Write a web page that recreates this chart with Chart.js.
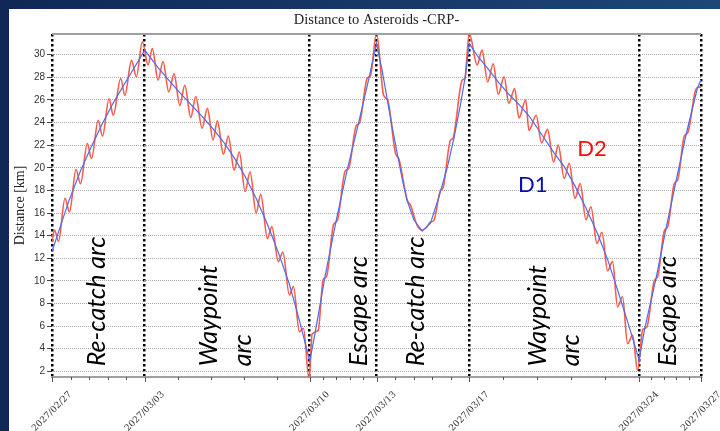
<!DOCTYPE html>
<html>
<head>
<meta charset="utf-8">
<script src="https://cdn.jsdelivr.net/npm/chart.js@4.4.1/dist/chart.umd.min.js"></script>
<style>
  html, body { margin: 0; padding: 0; background: #15305f; }
  canvas { display: block; }
</style>
</head>
<body>
<canvas id="c" width="720" height="431"></canvas>
<script>
// Arc boundary epochs, in days after 2027-02-27 00:00, with their date labels
const eventDays   = [0, 4, 11.12, 14, 18, 25.33, 28];
const eventLabels = ['2027/02/27', '2027/03/03', '2027/03/10', '2027/03/13',
                     '2027/03/17', '2027/03/24', '2027/03/27'];
const yTicks = [2, 4, 6, 8, 10, 12, 14, 16, 18, 20, 22, 24, 26, 28, 30];

// D1: mean distance [km]
const d1Day = [0, 0.259, 0.734, 1.222, 1.696, 2.171, 2.633, 3.138, 3.639, 4.0,
  4.575, 5.037, 5.512, 5.987, 6.474, 6.949, 7.394, 7.856, 8.330, 8.805, 9.293, 9.768, 10.243, 10.674, 11.12,
  11.352, 11.762, 12.237, 12.733, 13.208, 13.683, 14.0,
  14.244, 14.46, 14.675, 14.891, 15.107, 15.323, 15.612, 15.97, 16.329, 16.691, 17.05, 17.339, 17.624, 17.84, 18.0,
  18.388, 18.849, 19.281, 19.713, 20.144, 20.576, 21.076, 21.668, 22.1, 22.561, 23.036, 23.511, 23.969, 24.4, 24.832, 25.33,
  25.574, 26.057, 26.489, 26.92, 27.352, 27.827, 28.0];
const d1Km = [12.6, 14.2, 17.1, 19.7, 21.85, 23.9, 25.7, 27.45, 29.15, 30.4,
  28.85, 27.75, 26.65, 25.6, 24.55, 23.45, 22.3, 20.9, 19.25, 17.3, 15.0, 12.5, 9.7, 6.5, 2.9,
  5.4, 10.2, 15.1, 19.8, 23.8, 28.0, 31.0,
  28.6, 26.1, 23.6, 21.3, 19.05, 17.1, 15.4, 14.4, 15.1, 17.4, 20.0, 22.6, 25.6, 28.2, 31.0,
  29.8, 28.65, 27.5, 26.5, 25.6, 24.6, 23.1, 21.3, 20.1, 18.4, 16.45, 14.3, 11.9, 9.2, 6.4, 3.0,
  5.8, 10.2, 14.6, 18.8, 22.9, 26.9, 27.8];

// D2: distance including the orbital oscillation [km] (extrema and shoulders)
const d2Day = [0, 0.108, 0.281, 0.561, 0.755, 1.036, 1.230, 1.524, 1.705, 1.994, 2.180, 2.460, 2.642,
  2.965, 3.142, 3.431, 3.639, 3.898, 4.144, 4.329, 4.575, 4.791, 5.037, 5.266, 5.512, 5.728, 5.987,
  6.203, 6.474, 6.703, 6.949, 7.135, 7.394, 7.610, 7.856, 8.084, 8.330, 8.546, 8.805, 9.008, 9.293,
  9.483, 9.768, 9.958, 10.243, 10.415, 10.674, 10.847, 11.093,
  11.222, 11.481, 11.697, 11.848, 12.150, 12.302, 12.647, 12.798, 13.122, 13.273, 13.596, 13.747, 14.0,
  14.308, 14.481, 14.818, 14.964, 15.323, 15.465, 15.754, 15.970, 16.143, 16.329, 16.475, 16.760,
  16.864, 17.192, 17.295, 17.697, 17.813, 18.0,
  18.344, 18.551, 18.797, 19.035, 19.251, 19.510, 19.704, 19.963, 20.144, 20.438, 20.576, 20.891,
  21.120, 21.379, 21.638, 21.841, 22.100, 22.315, 22.561, 22.790, 23.036, 23.252, 23.511, 23.727,
  23.969, 24.184, 24.400, 24.616, 24.832, 25.048, 25.263,
  25.488, 25.660, 25.984, 26.135, 26.416, 26.567, 26.847, 26.998, 27.279, 27.430, 27.754, 27.905, 28.0];
const d2Km = [13.5, 14.5, 13.5, 17.3, 16.1, 19.85, 18.6, 22.15, 20.8, 24.2, 22.8, 26.1, 24.65,
  27.9, 26.4, 29.5, 28.05, 31.15, 29.1, 30.55, 27.75, 29.4, 26.7, 28.3, 25.5, 27.3, 24.45,
  26.3, 23.5, 25.25, 22.45, 24.15, 21.2, 22.8, 19.8, 21.4, 17.9, 19.65, 16.0, 17.65, 13.75,
  14.8, 11.7, 12.55, 8.75, 9.5, 5.5, 5.8, 1.3,
  5.3, 5.6, 10.1, 10.4, 15.0, 15.3, 19.7, 19.95, 23.7, 24.0, 27.9, 28.2, 31.9,
  26.4, 26.0, 21.3, 20.8, 17.15, 16.7, 14.9, 14.5, 14.7, 15.2, 15.35, 18.0,
  18.2, 22.45, 22.6, 27.75, 27.9, 31.9,
  29.1, 30.4, 27.6, 29.2, 26.5, 28.05, 25.7, 27.0, 24.4, 26.0, 23.3, 24.65,
  22.2, 23.4, 20.5, 22.0, 19.05, 20.4, 17.3, 18.6, 15.4, 16.55, 13.3, 14.3,
  10.9, 11.7, 7.7, 8.6, 4.45, 5.2, 2.1,
  5.7, 5.9, 10.0, 10.4, 14.4, 14.8, 18.6, 18.95, 22.8, 23.1, 26.8, 27.15, 27.1];

// Arc names, anchored at (day of text baseline, km of text start)
const arcNotes = [
  { text: 'Re-catch arc', day: 2.29 },
  { text: 'Waypoint',     day: 7.14 },
  { text: 'arc',          day: 8.57 },
  { text: 'Escape arc',   day: 13.58 },
  { text: 'Re-catch arc', day: 16.04 },
  { text: 'Waypoint',     day: 21.32 },
  { text: 'arc',          day: 22.75 },
  { text: 'Escape arc',   day: 26.93 }
];
const noteStartKm = 2.45;
const seriesTags = [
  { text: 'D1', day: 20.11, km: 17.87, color: '#0b0bb5' },
  { text: 'D2', day: 22.66, km: 21.03, color: '#ff0a0a' }
];

const toPoints = (xs, ys) => xs.map((d, i) => ({ x: d, y: ys[i] }));

const decor = {
  id: 'decor',
  beforeDraw(chart) {
    const { ctx, width: W, height: H } = chart;
    ctx.save();
    const g = ctx.createLinearGradient(0, 0, W, 0);
    g.addColorStop(0, '#0f2856');
    g.addColorStop(1, '#1d4679');
    ctx.fillStyle = g;
    ctx.fillRect(0, 0, W, H);
    ctx.fillStyle = '#ffffff';
    ctx.fillRect(9, 9, W - 9, H - 9);
    ctx.restore();
  },
  afterDraw(chart) {
    const { ctx, chartArea: a, scales: { x, y } } = chart;
    ctx.save();

    // top frame line
    ctx.strokeStyle = '#a0a0a0';
    ctx.lineWidth = 2;
    ctx.beginPath();
    ctx.moveTo(a.left, a.top);
    ctx.lineTo(a.right, a.top);
    ctx.stroke();

    // major and minor tick marks under the time axis
    ctx.strokeStyle = '#555';
    ctx.lineWidth = 1;
    eventDays.forEach((d, i) => {
      const px = Math.round(x.getPixelForValue(d)) + 0.5;
      ctx.beginPath();
      ctx.moveTo(px, a.bottom);
      ctx.lineTo(px, a.bottom + 5);
      ctx.stroke();
      if (i < eventDays.length - 1) {
        for (let k = 1; k < 5; k++) {
          const v = d + (eventDays[i + 1] - d) * k / 5;
          const p = Math.round(x.getPixelForValue(v)) + 0.5;
          ctx.beginPath();
          ctx.moveTo(p, a.bottom);
          ctx.lineTo(p, a.bottom + 3);
          ctx.stroke();
        }
      }
    });

    // date labels, slanted and centred on their tick
    ctx.fillStyle = '#333';
    ctx.font = '9px "DejaVu Serif"';
    ctx.textAlign = 'center';
    ctx.textBaseline = 'middle';
    eventDays.forEach((d, i) => {
      ctx.save();
      ctx.translate(x.getPixelForValue(d), a.bottom + 34.5);
      ctx.rotate(-Math.PI / 4);
      ctx.fillText(eventLabels[i], 0, 0);
      ctx.restore();
    });

    // title
    ctx.fillStyle = '#222';
    ctx.font = '14.5px "Liberation Serif"';
    ctx.textAlign = 'center';
    ctx.textBaseline = 'alphabetic';
    ctx.fillText('Distance to Asteroids -CRP-', (a.left + a.right) / 2, 24);

    // y axis title
    ctx.save();
    ctx.font = '14px "Liberation Serif"';
    ctx.translate(20, (a.top + a.bottom) / 2);
    ctx.rotate(-Math.PI / 2);
    ctx.textBaseline = 'middle';
    ctx.fillText('Distance [km]', 0, 0);
    ctx.restore();

    // arc names
    ctx.fillStyle = '#000';
    ctx.font = 'italic 25px Lato';
    ctx.textAlign = 'left';
    ctx.textBaseline = 'alphabetic';
    arcNotes.forEach(n => {
      ctx.save();
      ctx.translate(x.getPixelForValue(n.day), y.getPixelForValue(noteStartKm));
      ctx.rotate(-Math.PI / 2);
      ctx.fillText(n.text, 0, 0);
      ctx.restore();
    });

    // series tags
    ctx.font = '22px Lato';
    seriesTags.forEach(t => {
      ctx.fillStyle = t.color;
      ctx.fillText(t.text, x.getPixelForValue(t.day), y.getPixelForValue(t.km));
    });

    ctx.restore();
  }
};

new Chart(document.getElementById('c'), {
  type: 'line',
  data: {
    datasets: [
      {
        label: 'D1',
        data: toPoints(d1Day, d1Km),
        borderColor: '#4a6cf0',
        borderWidth: 1.2,
        pointRadius: 0,
        tension: 0,
        clip: 0
      },
      {
        label: 'D2',
        data: toPoints(d2Day, d2Km),
        borderColor: '#ff5a48',
        borderWidth: 1.6,
        pointRadius: 0,
        cubicInterpolationMode: 'monotone',
        clip: 0
      }
    ]
  },
  options: {
    responsive: false,
    animation: false,
    events: [],
    layout: { padding: { left: 0, top: 34, right: 19, bottom: 54 } },
    plugins: { legend: { display: false }, tooltip: { enabled: false }, title: { display: false } },
    scales: {
      x: {
        type: 'linear',
        min: 0,
        max: 28,
        afterBuildTicks: s => { s.ticks = eventDays.map(v => ({ value: v })); },
        afterFit: s => { s.height = 0; },
        ticks: { display: false },
        grid: { color: '#000', lineWidth: 2.5, drawTicks: false },
        border: { display: true, color: '#a0a0a0', width: 2, dash: [2.5, 2.5] }
      },
      y: {
        type: 'linear',
        min: 1.5,
        max: 31.83,
        afterBuildTicks: s => { s.ticks = yTicks.map(v => ({ value: v })); },
        afterFit: s => { s.width = 52; },
        ticks: { color: '#333', padding: 2, font: { family: 'Liberation Sans', size: 10 } },
        grid: { color: '#a8a8a8', lineWidth: 1, drawTicks: true, tickLength: 5,
                tickColor: '#444', tickWidth: 1, tickBorderDash: [] },
        border: { display: false, dash: [1, 1] }
      }
    }
  },
  plugins: [decor]
});
</script>
</body>
</html>
